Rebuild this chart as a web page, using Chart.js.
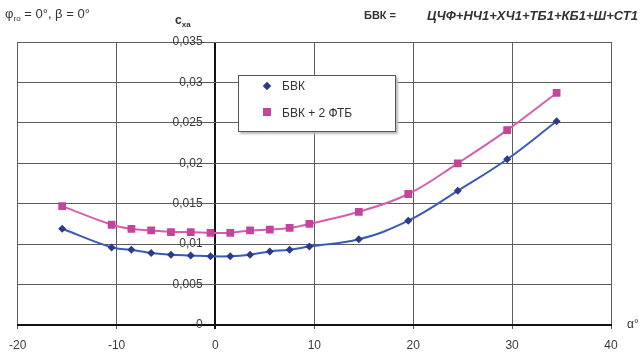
<!DOCTYPE html>
<html>
<head>
<meta charset="utf-8">
<script src="https://cdn.jsdelivr.net/npm/chart.js@4"></script>
<style>
  body { margin: 0; background: #fff; }
  #wrap { position: relative; width: 641px; height: 356px; font-family: "Liberation Sans", Arial, sans-serif; color: #333; }
  canvas { position: absolute; left: 0; top: 0; }
  .t { position: absolute; white-space: nowrap; font-size: 11px; line-height: 1; }
  .sub { font-size: 8px; position: relative; top: 3px; }
  #legend { position: absolute; left: 238px; top: 75px; width: 156px; height: 55px; border: 1px solid #555; background: #fff; box-shadow: 2px 2px 2px #bbb; }
  .mk { position: absolute; }
</style>
</head>
<body>
<div id="wrap">
  <canvas id="chart" width="641" height="356"></canvas>

  <div class="t" style="left:5px;top:7px;font-size:13px;">φ<span class="sub">го</span> = 0°, β = 0°</div>
  <div class="t" style="left:175px;top:14px;font-size:12px;font-weight:bold;">c<span class="sub">xa</span></div>
  <div class="t" style="left:364px;top:10px;font-size:11px;font-weight:bold;">БВК =</div>
  <div class="t" style="left:427px;top:9px;font-size:13px;font-weight:bold;font-style:italic;">ЦЧФ+НЧ1+ХЧ1+ТБ1+КБ1+Ш+СТ1</div>
  <div class="t" style="left:627px;top:318px;font-size:12px;">α°</div>

  <div id="legend">
    <div class="mk" style="left:25px;top:7px;width:6px;height:6px;background:#2b3a8a;transform:rotate(45deg);"></div>
    <div class="t" style="left:43px;top:4px;font-size:12px;">БВК</div>
    <div class="mk" style="left:24px;top:32px;width:8px;height:8px;background:#c4449c;"></div>
    <div class="t" style="left:43px;top:31px;font-size:12px;">БВК + 2 ФТБ</div>
  </div>
</div>

<script>
// angle of attack, deg
const alpha = [-15.5, -10.5, -8.5, -6.5, -4.5, -2.5, -0.5, 1.5, 3.5, 5.5, 7.5, 9.5, 14.5, 19.5, 24.5, 29.5, 34.5];

// БВК
const cxaBVK = [0.0119, 0.0096, 0.0093, 0.0089, 0.0087, 0.0086, 0.0085, 0.0085, 0.0087, 0.0091, 0.0093, 0.0097, 0.0106, 0.0129, 0.0166, 0.0205, 0.0252];

// БВК + 2 ФТБ
const cxaFTB = [0.0147, 0.0124, 0.0119, 0.0117, 0.0115, 0.0115, 0.0114, 0.0114, 0.0117, 0.0118, 0.0120, 0.0125, 0.0140, 0.0162, 0.0200, 0.0241, 0.0287];

const seriesNames = ["БВК", "БВК + 2 ФТБ"];

const toPoints = vals => alpha.map((a, i) => ({ x: a, y: vals[i] }));

// the alpha = 0 vertical is the black axis line, drawn as an x grid line
const xGridColor = ctx => (ctx.tick && ctx.tick.value === 0) ? "#111" : "#5c5c5c";
const xGridWidth = ctx => (ctx.tick && ctx.tick.value === 0) ? 2 : 1;
const yGridColor = ctx => (ctx.tick && ctx.tick.value === 0) ? "rgba(0,0,0,0)" : "#5c5c5c";

new Chart(document.getElementById("chart"), {
  type: "scatter",
  data: {
    datasets: [
      {
        label: seriesNames[1],
        data: toPoints(cxaFTB),
        showLine: true,
        tension: 0.4,
        borderColor: "#d35fae",
        borderWidth: 2,
        pointStyle: "rect",
        pointRadius: 5.5,
        pointBackgroundColor: "#c4449c",
        pointBorderWidth: 0
      },
      {
        label: seriesNames[0],
        data: toPoints(cxaBVK),
        showLine: true,
        tension: 0.4,
        borderColor: "#3b5bb5",
        borderWidth: 2,
        pointStyle: "rectRot",
        pointRadius: 4,
        pointBackgroundColor: "#2b3a8a",
        pointBorderWidth: 0
      }
    ]
  },
  options: {
    responsive: false,
    animation: false,
    layout: { padding: { left: 17, right: 30, top: 42, bottom: 0 } },
    plugins: { legend: { display: false }, tooltip: { enabled: false } },
    scales: {
      x: {
        type: "linear",
        min: -20,
        max: 40,
        ticks: { stepSize: 10, color: "#3a3a3a", font: { family: "Liberation Sans", size: 12 }, padding: 9 },
        grid: { color: xGridColor, lineWidth: xGridWidth, tickLength: 4 },
        border: { color: "#111", width: 2 },
        afterFit: s => { s.height = 31; }
      },
      y: {
        // labels sit a little left of the alpha = 0 line
        position: { x: -1.3 },
        min: 0,
        max: 0.035,
        ticks: {
          stepSize: 0.005,
          color: "#3a3a3a",
          font: { family: "Liberation Sans", size: 12 },
          callback: v => String(Number(v.toFixed(3))).replace(".", ",")
        },
        grid: { color: yGridColor, lineWidth: 1, drawTicks: false },
        border: { display: false },
        afterFit: s => { s.width = 0; }
      }
    }
  }
});
</script>
</body>
</html>
